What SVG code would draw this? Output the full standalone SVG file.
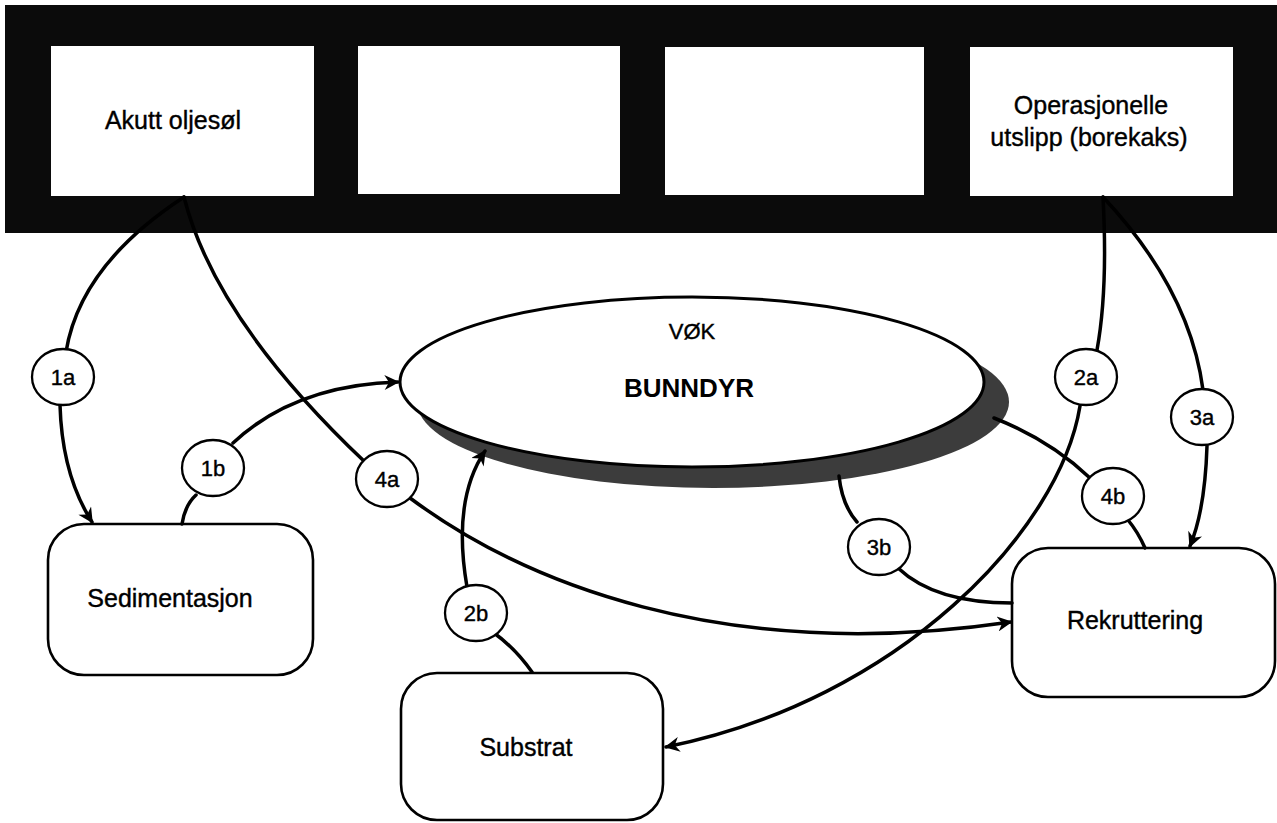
<svg xmlns="http://www.w3.org/2000/svg" width="1277" height="823" viewBox="0 0 1277 823">
  <style>
    .box { fill: #ffffff; stroke: #000000; stroke-width: 2.6; }
    .src { fill: #ffffff; stroke: none; }
    .lbl { font-family: "Liberation Sans", Arial, sans-serif; font-size: 25px; fill: #000000; stroke: #000000; stroke-width: 0.4; text-anchor: middle; }
    .tag { font-family: "Liberation Sans", Arial, sans-serif; font-size: 22px; fill: #000000; stroke: #000000; stroke-width: 0.4; text-anchor: middle; }
    .bubble { fill: #ffffff; stroke: #000000; stroke-width: 2.3; }
    .link { fill: none; stroke: #000000; stroke-width: 3.5; stroke-linecap: round; }
  </style>
  <defs>
    <marker id="arrow" viewBox="0 0 10 10" refX="9" refY="5" markerWidth="17" markerHeight="15" markerUnits="userSpaceOnUse" orient="auto">
      <path d="M0,0 L10,5 L0,10 L3,5 z" fill="#000000"/>
    </marker>
  </defs>

  <rect width="1277" height="823" fill="#ffffff"/>

  <!-- dark header band holding the four source boxes -->
  <rect x="5" y="5" width="1272" height="228" fill="#0b0b0b"/>

  <g id="akutt-oljesol">
    <rect class="src" x="51" y="46" width="263" height="150"/>
    <text class="lbl" x="173" y="129">Akutt oljesøl</text>
  </g>
  <g id="source-empty-1">
    <rect class="src" x="358" y="46" width="262" height="148"/>
  </g>
  <g id="source-empty-2">
    <rect class="src" x="665" y="47" width="259" height="148"/>
  </g>
  <g id="operasjonelle-utslipp">
    <rect class="src" x="970" y="47" width="263" height="149"/>
    <text class="lbl" x="1091" y="114">Operasjonelle</text>
    <text class="lbl" x="1089" y="146">utslipp (borekaks)</text>
  </g>

  <!-- central ellipse with its drop shadow -->
  <g id="bunndyr">
    <ellipse cx="713" cy="402" rx="296" ry="86" fill="#3c3c3c"/>
    <ellipse cx="692" cy="382" rx="292" ry="85" fill="#ffffff" stroke="#000000" stroke-width="3"/>
    <text x="692" y="339" text-anchor="middle" font-family="Liberation Sans, Arial, sans-serif" font-size="22" stroke="#000000" stroke-width="0.4">VØK</text>
    <text x="689" y="397" text-anchor="middle" font-family="Liberation Sans, Arial, sans-serif" font-size="26" font-weight="bold">BUNNDYR</text>
  </g>

  <g id="sedimentasjon">
    <rect class="box" x="48" y="524" width="265" height="151" rx="36" ry="36"/>
    <text class="lbl" x="170" y="607">Sedimentasjon</text>
  </g>
  <g id="rekruttering">
    <rect class="box" x="1012" y="548" width="263" height="149" rx="36" ry="36"/>
    <text class="lbl" x="1135" y="629">Rekruttering</text>
  </g>
  <g id="substrat">
    <rect class="box" x="401" y="673" width="262" height="147" rx="36" ry="36"/>
    <text class="lbl" x="526" y="756">Substrat</text>
  </g>

  <g id="connectors">
    <!-- 1a: oil spill to sedimentation -->
    <path class="link" d="M184,197 Q80,265 66,352"/>
    <path class="link" d="M60,405 Q62,475 92,522" marker-end="url(#arrow)"/>
    <!-- 1b: sedimentation to benthos -->
    <path class="link" d="M182,524 Q185,505 196,495"/>
    <path class="link" d="M233,443 Q295,385 398,382" marker-end="url(#arrow)"/>
    <!-- 4a: oil spill to recruitment -->
    <path class="link" d="M184,197 Q215,320 365,462"/>
    <path class="link" d="M410,498 C520,580 720,665 1011,622" marker-end="url(#arrow)"/>
    <!-- 2a: drill cuttings to substrate -->
    <path class="link" d="M1103,197 Q1108,290 1097,350"/>
    <path class="link" d="M1080,406 C1060,530 900,700 666,747" marker-end="url(#arrow)"/>
    <!-- 2b: substrate to benthos -->
    <path class="link" d="M532,672 Q515,648 494,633"/>
    <path class="link" d="M467,587 Q452,500 485,451" marker-end="url(#arrow)"/>
    <!-- 3a: drill cuttings to recruitment -->
    <path class="link" d="M1103,197 Q1190,290 1203,390"/>
    <path class="link" d="M1207,446 Q1205,510 1190,546" marker-end="url(#arrow)"/>
    <!-- 3b: benthos to recruitment -->
    <path class="link" d="M839,476 Q842,505 857,522"/>
    <path class="link" d="M898,568 Q935,603 1012,603"/>
    <!-- 4b: benthos to recruitment -->
    <path class="link" d="M994,418 Q1050,440 1090,478"/>
    <path class="link" d="M1128,520 Q1138,532 1145,548"/>
  </g>

  <g id="labels">
    <g id="tag-1a"><ellipse class="bubble" cx="63" cy="377" rx="31" ry="28"/><text class="tag" x="63" y="385">1a</text></g>
    <g id="tag-1b"><ellipse class="bubble" cx="213" cy="468" rx="31" ry="28"/><text class="tag" x="213" y="476">1b</text></g>
    <g id="tag-4a"><ellipse class="bubble" cx="387" cy="479" rx="31" ry="28"/><text class="tag" x="387" y="487">4a</text></g>
    <g id="tag-2a"><ellipse class="bubble" cx="1086" cy="377" rx="31" ry="28"/><text class="tag" x="1086" y="385">2a</text></g>
    <g id="tag-3a"><ellipse class="bubble" cx="1202" cy="417" rx="31" ry="28"/><text class="tag" x="1202" y="425">3a</text></g>
    <g id="tag-4b"><ellipse class="bubble" cx="1113" cy="496" rx="31" ry="28"/><text class="tag" x="1113" y="504">4b</text></g>
    <g id="tag-3b"><ellipse class="bubble" cx="879" cy="547" rx="31" ry="28"/><text class="tag" x="879" y="555">3b</text></g>
    <g id="tag-2b"><ellipse class="bubble" cx="476" cy="613" rx="31" ry="28"/><text class="tag" x="476" y="621">2b</text></g>
  </g>
</svg>
